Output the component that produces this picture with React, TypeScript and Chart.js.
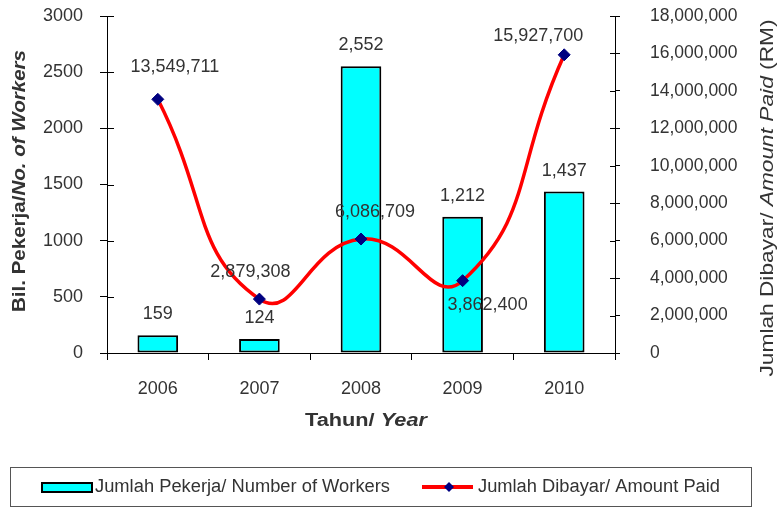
import React, { useEffect, useRef } from 'react';
import { Chart, registerables } from 'chart.js';

Chart.register(...registerables);

// ---- data ----
const years = ['2006', '2007', '2008', '2009', '2010'];
const workers = [159, 124, 2552, 1212, 1437];
const amountPaid = [13549711, 2879308, 6086709, 3862400, 15927700];
const workersTickMax = 3000;
const workersTickStep = 500;
const paidTickMax = 18000000;
const paidTickStep = 2000000;

const barLabel = 'Jumlah Pekerja/ Number of Workers';
const lineLabel = 'Jumlah Dibayar/ Amount Paid';

// label offsets for line data labels (manual placement as in the reference)
const lineLabelOffsets: [number, number][] = [
  [17, -32],
  [-9, -27],
  [14, -27],
  [25, 24],
  [-26, -19],
];

const FONT = 'Arial, "Liberation Sans", Helvetica, sans-serif';
const TEXT = '#333333';
const fmt = (v: number) => v.toLocaleString('en-US');

type Part = { text: string; font: string };

function drawRich(
  ctx: CanvasRenderingContext2D,
  parts: Part[],
  cx: number,
  cy: number,
  rotation: number,
  targetLen?: number
) {
  ctx.save();
  ctx.translate(cx, cy);
  ctx.rotate(rotation);
  let total = 0;
  const widths = parts.map((p) => {
    ctx.font = p.font;
    const w = ctx.measureText(p.text).width;
    total += w;
    return w;
  });
  const s = targetLen ? targetLen / total : 1;
  ctx.scale(s, 1);
  ctx.fillStyle = TEXT;
  ctx.textBaseline = 'middle';
  ctx.textAlign = 'left';
  let x = -total / 2;
  parts.forEach((p, i) => {
    ctx.font = p.font;
    ctx.fillText(p.text, x, 0);
    x += widths[i];
  });
  ctx.restore();
}

const decorPlugin = {
  id: 'decor',
  afterDatasetsDraw(chart: any) {
    const ctx: CanvasRenderingContext2D = chart.ctx;
    const yL = chart.scales.y;
    const yR = chart.scales.y1;
    const area = chart.chartArea;

    // inner tick marks on both y axes
    ctx.save();
    ctx.strokeStyle = '#000';
    ctx.lineWidth = 1;
    yL.ticks.forEach((_t: any, i: number) => {
      const py = Math.round(yL.getPixelForTick(i)) + 0.5;
      ctx.beginPath();
      ctx.moveTo(area.left, py);
      ctx.lineTo(area.left + 7, py);
      ctx.stroke();
    });
    yR.ticks.forEach((_t: any, i: number) => {
      const py = Math.round(yR.getPixelForTick(i)) + 0.5;
      ctx.beginPath();
      ctx.moveTo(area.right - 5, py);
      ctx.lineTo(area.right, py);
      ctx.stroke();
    });
    ctx.restore();

    // data labels
    ctx.save();
    ctx.fillStyle = TEXT;
    ctx.font = `18px ${FONT}`;
    ctx.textAlign = 'center';
    ctx.textBaseline = 'middle';
    const barMeta = chart.getDatasetMeta(1);
    barMeta.data.forEach((el: any, i: number) => {
      ctx.fillText(fmt(workers[i]), el.x, el.y - 21);
    });
    const lineMeta = chart.getDatasetMeta(0);
    lineMeta.data.forEach((el: any, i: number) => {
      const [dx, dy] = lineLabelOffsets[i];
      ctx.fillText(fmt(amountPaid[i]), el.x + dx, el.y + dy);
    });
    ctx.restore();
  },
  afterDraw(chart: any) {
    const ctx: CanvasRenderingContext2D = chart.ctx;
    // axis titles
    drawRich(
      ctx,
      [
        { text: 'Bil. Pekerja/', font: `bold 18px ${FONT}` },
        { text: 'No. of Workers', font: `italic bold 18px ${FONT}` },
      ],
      20,
      181,
      -Math.PI / 2,
      262
    );
    drawRich(
      ctx,
      [
        { text: 'Jumlah Dibayar/ ', font: `18px ${FONT}` },
        { text: 'Amount Paid', font: `italic 18px ${FONT}` },
        { text: ' (RM)', font: `18px ${FONT}` },
      ],
      768,
      198,
      -Math.PI / 2,
      357
    );
    drawRich(
      ctx,
      [
        { text: 'Tahun/ ', font: `bold 18px ${FONT}` },
        { text: 'Year', font: `italic bold 18px ${FONT}` },
      ],
      366,
      421,
      0,
      122
    );

    // legend
    ctx.save();
    ctx.strokeStyle = '#555';
    ctx.lineWidth = 1;
    ctx.strokeRect(10.5, 467.5, 741, 39);
    const ly = 487;
    ctx.fillStyle = '#00FFFF';
    ctx.fillRect(42, ly - 4, 50, 9);
    ctx.strokeStyle = '#000';
    ctx.lineWidth = 2;
    ctx.strokeRect(42, ly - 4, 50, 9);
    ctx.strokeStyle = '#FF0000';
    ctx.lineWidth = 4;
    ctx.beginPath();
    ctx.moveTo(422, ly);
    ctx.lineTo(473, ly);
    ctx.stroke();
    ctx.fillStyle = '#000080';
    ctx.beginPath();
    ctx.moveTo(449, ly - 5);
    ctx.lineTo(454, ly);
    ctx.lineTo(449, ly + 5);
    ctx.lineTo(444, ly);
    ctx.closePath();
    ctx.fill();
    ctx.restore();
    drawRich(ctx, [{ text: barLabel, font: `18px ${FONT}` }], 95 + 295 / 2, ly, 0, 295);
    drawRich(ctx, [{ text: lineLabel, font: `18px ${FONT}` }], 478 + 242 / 2, ly, 0, 242);
  },
};

export default function App() {
  const ref = useRef<HTMLCanvasElement | null>(null);

  useEffect(() => {
    if (!ref.current) return;
    const chart = new Chart(ref.current, {
      type: 'bar',
      data: {
        labels: years,
        datasets: [
          {
            type: 'line',
            label: lineLabel,
            data: amountPaid,
            yAxisID: 'y1',
            borderColor: '#FF0000',
            borderWidth: 3.5,
            tension: 0.5,
            fill: false,
            pointStyle: 'rectRot',
            pointRadius: 6,
            pointBackgroundColor: '#000080',
            pointBorderColor: '#000080',
            pointBorderWidth: 1,
            order: 0,
          } as any,
          {
            type: 'bar',
            label: barLabel,
            data: workers,
            yAxisID: 'y',
            backgroundColor: '#00FFFF',
            borderColor: '#000000',
            borderWidth: 2,
            borderSkipped: false,
            categoryPercentage: 1,
            barPercentage: 0.4,
            order: 1,
          } as any,
        ],
      },
      options: {
        responsive: false,
        animation: false,
        devicePixelRatio: 1,
        layout: { padding: { top: 16, left: 0, right: 0, bottom: 0 } },
        plugins: {
          legend: { display: false },
          tooltip: { enabled: false },
        },
        scales: {
          x: {
            offset: true,
            grid: {
              display: true,
              drawOnChartArea: false,
              drawTicks: true,
              tickLength: 7,
              offset: true,
              color: '#000',
            },
            border: { display: true, color: '#000', width: 1 },
            ticks: { font: { size: 18, family: FONT }, color: TEXT, padding: 18 },
            afterFit: (s: any) => {
              s.height = 155;
              s.paddingLeft = 0;
              s.paddingRight = 0;
            },
          },
          y: {
            position: 'left',
            min: 0,
            max: workersTickMax,
            grid: { drawOnChartArea: false, tickLength: 7, color: '#000' },
            border: { display: true, color: '#000', width: 1 },
            ticks: {
              stepSize: workersTickStep,
              font: { size: 18, family: FONT },
              color: TEXT,
              padding: 17,
              callback: (v: any) => String(v),
            },
            afterFit: (s: any) => {
              s.width = 107;
              s.paddingTop = 0;
              s.paddingBottom = 0;
            },
          },
          y1: {
            position: 'right',
            min: 0,
            max: paidTickMax,
            grid: { drawOnChartArea: false, tickLength: 5, color: '#000' },
            border: { display: true, color: '#000', width: 1 },
            ticks: {
              stepSize: paidTickStep,
              font: { size: 17.5, family: FONT },
              color: TEXT,
              padding: 30,
              callback: (v: any) => fmt(Number(v)),
            },
            afterFit: (s: any) => {
              s.width = 165;
              s.paddingTop = 0;
              s.paddingBottom = 0;
            },
          },
        },
      },
      plugins: [decorPlugin],
    });
    return () => chart.destroy();
  }, []);

  return (
    <div style={{ position: 'fixed', left: 0, top: 0, width: 780, height: 508, background: '#fff' }}>
      <canvas ref={ref} width={780} height={508} style={{ display: 'block' }} />
    </div>
  );
}
